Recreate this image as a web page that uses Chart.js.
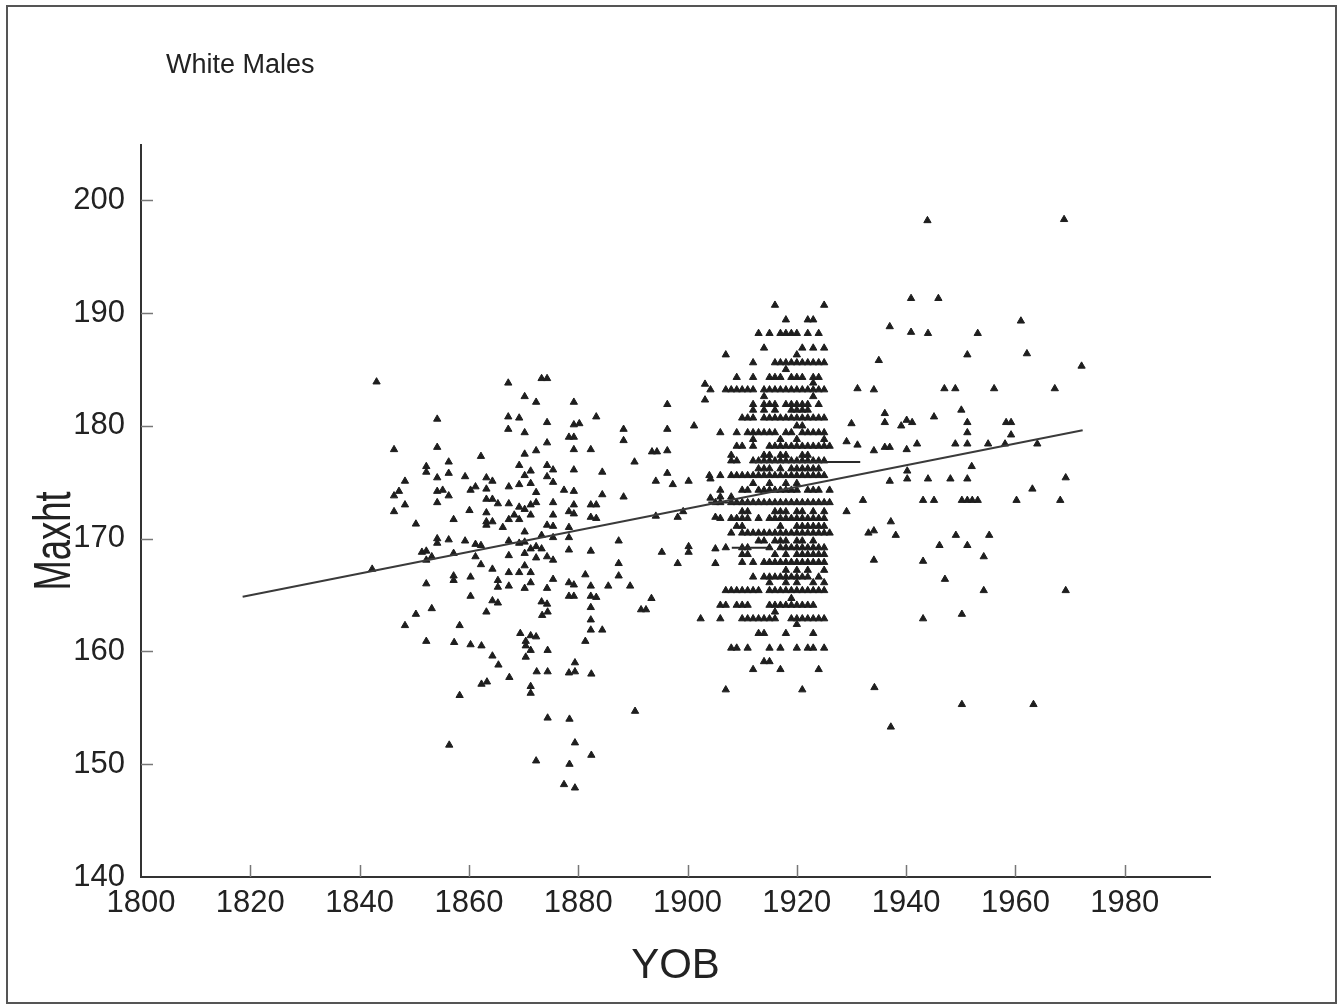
<!DOCTYPE html>
<html>
<head>
<meta charset="utf-8">
<script src="https://cdn.jsdelivr.net/npm/chart.js@4.4.0/dist/chart.umd.min.js"></script>
<style>
  html, body { margin: 0; padding: 0; background: #fff; }
  #wrap { width: 1338px; height: 1005px; }
</style>
</head>
<body>
<div id="wrap"><canvas id="myChart" width="1338" height="1005"></canvas></div>
<script>
// axis ticks
const xTickValues = [1800, 1820, 1840, 1860, 1880, 1900, 1920, 1940, 1960, 1980];
const yTickValues = [140, 150, 160, 170, 180, 190, 200];

// scattered births before the dense block [YOB, Maxht]
const earlyBirths = [
  [1843.1,183.9],[1867.2,183.8],[1873.3,184.2],[1874.3,184.2],[1870.2,182.6],[1872.3,182.1],[1879.2,182.1],
  [1854.2,180.6],[1867.2,180.8],[1869.2,180.7],[1874.3,180.3],[1879.2,180.1],[1880.2,180.2],[1883.3,180.8],
  [1888.3,179.7],[1867.2,179.7],[1870.2,179.4],[1878.3,179.0],[1879.2,179.0],[1888.3,178.7],[1846.3,177.9],
  [1854.2,178.1],[1874.3,178.5],[1872.3,177.8],[1879.2,177.9],[1882.3,177.9],[1893.5,177.7],[1894.4,177.7],
  [1862.2,177.3],[1870.2,177.5],[1856.3,176.8],[1890.3,176.8],[1852.2,176.4],[1852.2,175.9],[1869.2,176.5],
  [1874.3,176.5],[1875.4,176.1],[1856.3,175.8],[1879.2,176.1],[1884.4,175.9],[1848.3,175.1],[1854.2,175.4],
  [1859.3,175.5],[1863.2,175.4],[1864.3,175.1],[1870.2,175.6],[1871.3,176.0],[1874.3,175.5],[1894.2,175.1],
  [1846.3,173.8],[1847.2,174.2],[1854.2,174.2],[1855.2,174.3],[1856.3,173.8],[1860.3,174.3],[1861.2,174.6],
  [1863.2,174.4],[1867.3,174.6],[1869.2,174.8],[1871.3,174.9],[1872.3,174.1],[1875.4,175.0],[1877.4,174.3],
  [1879.2,174.2],[1884.4,173.9],[1888.3,173.7],[1863.2,173.5],[1864.3,173.5],[1865.3,173.1],[1867.3,173.1],
  [1869.2,172.8],[1870.2,172.6],[1871.3,173.0],[1872.3,173.2],[1875.4,173.2],[1879.2,173.0],[1882.3,173.0],
  [1883.3,173.0],[1848.3,173.0],[1846.3,172.4],[1854.2,173.2],[1860.1,172.5],[1863.2,172.3],[1878.3,172.4],
  [1879.2,172.2],[1882.3,171.9],[1883.3,171.8],[1871.3,172.1],[1868.3,172.1],[1867.3,171.7],[1869.2,171.7],
  [1875.4,172.1],[1894.2,172.0],[1850.3,171.3],[1857.2,171.7],[1863.2,171.5],[1864.3,171.5],[1863.2,171.2],
  [1866.2,171.0],[1874.3,171.2],[1875.4,171.1],[1878.3,171.0],[1870.2,170.6],[1873.3,170.3],[1878.3,170.1],
  [1854.2,170.0],[1854.2,169.6],[1856.3,169.9],[1859.3,169.8],[1861.2,169.5],[1862.2,169.4],[1867.3,169.8],
  [1869.2,169.6],[1870.2,169.7],[1875.4,170.1],[1887.4,169.8],[1871.3,169.1],[1872.3,169.3],[1873.3,169.1],
  [1878.3,169.0],[1882.3,168.9],[1851.4,168.8],[1852.2,168.9],[1853.2,168.4],[1852.2,168.1],[1857.2,168.7],
  [1861.2,168.4],[1867.3,168.5],[1870.2,168.7],[1872.3,168.3],[1874.3,168.4],[1875.4,168.1],[1887.4,167.8],
  [1842.3,167.3],[1862.2,167.7],[1864.3,167.3],[1870.2,167.6],[1867.3,167.0],[1869.2,167.0],[1871.3,167.0],
  [1881.3,166.8],[1887.4,166.7],[1852.2,166.0],[1857.2,166.7],[1857.2,166.3],[1860.3,166.6],[1865.3,166.3],
  [1865.3,165.7],[1867.3,165.8],[1870.2,165.6],[1871.3,166.1],[1875.4,166.4],[1874.3,165.6],[1878.3,166.1],
  [1879.2,165.9],[1882.3,165.8],[1885.5,165.8],[1889.5,165.8],[1860.3,164.9],[1864.3,164.5],[1865.3,164.3],
  [1878.3,164.9],[1879.2,164.9],[1882.3,164.9],[1883.3,164.8],[1893.4,164.7],[1873.3,164.4],[1874.3,164.2],
  [1853.2,163.8],[1850.3,163.3],[1863.2,163.5],[1873.4,163.2],[1874.4,163.5],[1882.3,163.9],[1882.3,162.8],
  [1891.5,163.7],[1892.4,163.7],[1848.3,162.3],[1858.3,162.3],[1882.3,161.9],[1884.4,161.9],[1869.4,161.6],
  [1871.3,161.4],[1872.3,161.3],[1852.2,160.9],[1857.3,160.8],[1860.3,160.6],[1862.3,160.5],[1870.4,160.9],
  [1870.4,160.5],[1871.3,160.1],[1874.4,160.1],[1881.3,160.9],[1864.3,159.6],[1865.4,158.8],[1870.4,159.5],
  [1872.4,158.2],[1874.4,158.2],[1878.3,158.1],[1879.4,158.2],[1879.4,159.0],[1882.4,158.0],[1867.4,157.7],
  [1862.3,157.1],[1863.3,157.3],[1871.3,156.9],[1871.3,156.3],[1858.3,156.1],[1890.4,154.7],[1874.4,154.1],
  [1878.4,154.0],[1879.4,151.9],[1856.4,151.7],[1882.4,150.8],[1872.3,150.3],[1878.4,150.0],[1877.4,148.2],
  [1879.4,147.9],
  [1903.2,183.7],[1904.2,183.2],[1903.2,182.3],[1896.3,181.9],[1901.2,180.0],[1896.3,179.7],[1896.3,177.8],
  [1896.3,175.8],[1897.3,174.8],[1900.2,175.1],[1904.2,175.3],[1904.2,173.6],[1905.1,173.2],[1898.2,171.9],
  [1899.2,172.4],[1905.1,171.9],[1895.3,168.8],[1900.2,169.3],[1900.2,168.8],[1905.1,169.1],[1898.2,167.8],
  [1905.1,167.8],[1902.4,162.9]
];

// scattered births after the dense block [YOB, Maxht]
const lateBirths = [
  [1943.9,198.2],[1968.9,198.3],[1940.9,191.3],[1945.9,191.3],[1937.0,188.8],[1940.9,188.3],[1944.0,188.2],
  [1953.1,188.2],[1961.0,189.3],[1951.2,186.3],[1962.1,186.4],[1972.1,185.3],[1935.0,185.8],[1931.1,183.3],
  [1934.1,183.2],[1947.0,183.3],[1949.0,183.3],[1956.1,183.3],[1967.2,183.3],[1936.1,181.1],[1936.1,180.3],
  [1940.1,180.5],[1941.1,180.3],[1939.1,180.0],[1945.1,180.8],[1950.1,181.4],[1951.2,180.3],[1951.2,179.4],
  [1958.3,180.3],[1959.2,180.3],[1959.2,179.2],[1930.0,180.2],[1929.1,178.6],[1931.1,178.3],[1934.1,177.8],
  [1936.1,178.1],[1937.0,178.1],[1940.1,177.9],[1942.0,178.4],[1949.0,178.4],[1951.2,178.4],[1955.0,178.4],
  [1958.1,178.4],[1964.0,178.4],[1952.0,176.4],[1940.2,176.0],[1937.0,175.1],[1940.2,175.3],[1944.0,175.3],
  [1948.1,175.3],[1951.2,175.3],[1963.1,174.4],[1969.2,175.4],[1932.1,173.4],[1943.1,173.4],[1945.1,173.4],
  [1950.2,173.4],[1951.2,173.4],[1952.1,173.4],[1953.1,173.4],[1960.2,173.4],[1968.2,173.4],[1929.1,172.4],
  [1937.2,171.5],[1933.1,170.5],[1934.1,170.7],[1938.1,170.3],[1949.1,170.3],[1955.2,170.3],[1946.1,169.4],
  [1951.2,169.4],[1954.2,168.4],[1934.1,168.1],[1943.1,168.0],[1947.1,166.4],[1954.2,165.4],[1969.2,165.4],
  [1943.1,162.9],[1950.2,163.3],[1934.2,156.8],[1950.2,155.3],[1963.3,155.3],[1937.2,153.3]
];

// dense block 1904-1926: one row per recorded height, with the birth years in that row
const clusterHeights = [190.7, 189.4, 188.2, 186.9, 186.3, 185.6, 185.0, 184.3, 183.8, 183.2, 182.6, 181.9,
  181.4, 180.7, 180.0, 179.4, 178.8, 178.2, 177.4, 176.9, 176.2, 175.6, 174.9, 174.3, 173.7, 173.2, 172.4,
  171.8, 171.1, 170.5, 169.8, 169.2, 168.6, 167.9, 167.2, 166.6, 166.1, 165.4, 164.7, 164.1, 163.5, 162.9,
  162.4, 161.6, 160.3, 159.1, 158.4, 156.6];
const clusterYears = [
  [1916, 1925],
  [1918, 1922, 1923],
  [1913, 1915, 1917, 1918, 1919, 1920, 1922, 1924],
  [1914, 1921, 1923, 1925],
  [1907, 1920],
  [1912, 1916, 1917, 1918, 1919, 1920, 1921, 1922, 1923, 1924, 1925],
  [1918],
  [1909, 1912, 1915, 1916, 1917, 1919, 1920, 1921, 1923, 1924],
  [1923],
  [1907, 1908, 1909, 1910, 1911, 1912, 1914, 1915, 1916, 1917, 1918, 1919, 1920, 1921, 1922, 1923, 1924, 1925],
  [1914, 1923],
  [1912, 1914, 1915, 1916, 1918, 1919, 1920, 1921, 1922, 1924],
  [1912, 1914, 1916, 1919, 1920, 1921, 1922],
  [1910, 1911, 1912, 1914, 1915, 1916, 1917, 1918, 1919, 1920, 1921, 1922, 1923, 1924, 1925],
  [1920, 1921],
  [1906, 1909, 1911, 1912, 1913, 1914, 1915, 1916, 1918, 1919, 1921, 1922, 1923, 1924, 1925],
  [1912, 1917, 1920, 1925],
  [1909, 1910, 1912, 1915, 1916, 1917, 1918, 1919, 1920, 1921, 1922, 1923, 1924, 1925, 1926],
  [1908, 1914, 1915, 1917, 1918, 1921, 1922],
  [1908, 1909, 1912, 1913, 1914, 1915, 1916, 1917, 1918, 1919, 1920, 1921, 1922, 1923, 1924, 1925],
  [1913, 1914, 1915, 1917, 1919, 1920, 1921, 1922, 1923, 1924],
  [1904, 1906, 1908, 1909, 1910, 1911, 1912, 1913, 1914, 1915, 1916, 1917, 1918, 1919, 1920, 1921, 1922, 1923, 1924, 1925],
  [1912, 1915, 1918, 1920],
  [1906, 1910, 1911, 1913, 1914, 1915, 1916, 1917, 1918, 1919, 1920, 1922, 1923, 1924, 1926],
  [1906, 1908],
  [1906, 1908, 1909, 1910, 1911, 1912, 1913, 1914, 1915, 1916, 1917, 1918, 1919, 1920, 1921, 1922, 1923, 1924, 1925, 1926],
  [1910, 1911, 1916, 1917, 1918, 1920, 1921, 1923, 1925],
  [1906, 1908, 1909, 1910, 1911, 1913, 1915, 1916, 1917, 1918, 1919, 1920, 1921, 1922, 1923, 1924, 1925],
  [1909, 1910, 1917, 1920, 1921, 1922, 1923, 1924, 1925],
  [1908, 1910, 1911, 1912, 1913, 1914, 1915, 1916, 1917, 1918, 1919, 1920, 1921, 1922, 1923, 1924, 1925, 1926],
  [1913, 1914, 1916, 1917, 1918, 1920, 1921, 1923],
  [1907, 1910, 1911, 1915, 1917, 1918, 1919, 1920, 1921, 1922, 1923, 1924, 1925],
  [1910, 1911, 1916, 1918, 1920, 1921, 1922, 1923, 1924, 1925],
  [1910, 1912, 1914, 1915, 1916, 1917, 1918, 1919, 1920, 1921, 1922, 1923, 1924, 1925],
  [1918, 1920, 1922, 1925],
  [1912, 1914, 1915, 1916, 1917, 1918, 1919, 1920, 1921, 1922, 1924],
  [1915, 1918, 1920, 1923, 1925],
  [1907, 1908, 1909, 1910, 1911, 1912, 1913, 1915, 1916, 1917, 1918, 1919, 1920, 1921, 1922, 1923, 1924, 1925],
  [1919],
  [1906, 1907, 1909, 1910, 1911, 1915, 1916, 1917, 1918, 1919, 1920, 1921, 1922, 1923],
  [1916],
  [1906, 1910, 1911, 1912, 1913, 1914, 1915, 1916, 1919, 1920, 1921, 1922, 1923, 1924, 1925],
  [1920],
  [1913, 1914, 1918, 1923],
  [1908, 1909, 1911, 1915, 1917, 1920, 1922, 1923, 1925],
  [1914, 1915],
  [1912, 1917, 1924],
  [1907, 1921]
];

// fitted line and the short horizontal marks inside the block
const fitYOB = [1818.6, 1972.3];
const fitMaxht = [164.85, 179.6];
const markYOB = [[1912, 1931.6], [1903.8, 1926.3], [1908.1, 1915.1]];
const markMaxht = [176.8, 173.2, 169.2];

const points = [];
earlyBirths.forEach(p => points.push({x: p[0], y: p[1]}));
clusterHeights.forEach((h, i) => {
  clusterYears[i].forEach(yr => points.push({x: yr, y: h}));
});
lateBirths.forEach(p => points.push({x: p[0], y: p[1]}));

const FONT = '"Liberation Sans", Arial, Helvetica, sans-serif';
const INK = '#222';

const datasets = [
  {
    label: 'Fit',
    type: 'line',
    data: fitYOB.map((x, i) => ({x: x, y: fitMaxht[i]})),
    borderColor: '#3a3a3a',
    borderWidth: 2,
    pointRadius: 0,
    order: 0
  }
];
markYOB.forEach((seg, i) => {
  datasets.push({
    label: 'Mark ' + (i + 1),
    type: 'line',
    data: seg.map(x => ({x: x, y: markMaxht[i]})),
    borderColor: '#2a2a2a',
    borderWidth: 2,
    pointRadius: 0,
    order: 1
  });
});
datasets.push({
  label: 'Maxht',
  type: 'scatter',
  data: points,
  pointStyle: 'triangle',
  pointRadius: 4.2,
  backgroundColor: '#1e1e1e',
  borderColor: '#1e1e1e',
  borderWidth: 1,
  order: 2
});

// page frame, inward tick marks and the free-standing texts
const decor = {
  id: 'decor',
  beforeDraw(chart) {
    const c = chart.ctx;
    c.save();
    c.fillStyle = '#fff';
    c.fillRect(0, 0, chart.width, chart.height);
    c.strokeStyle = '#555';
    c.lineWidth = 2;
    c.strokeRect(7, 6, 1329, 997);
    c.restore();
  },
  afterDraw(chart) {
    const c = chart.ctx;
    const xs = chart.scales.x, ys = chart.scales.y;
    const a = chart.chartArea;
    c.save();
    c.strokeStyle = '#777';
    c.lineWidth = 1.5;
    xTickValues.slice(1).forEach(v => {
      const px = Math.round(xs.getPixelForValue(v)) + 0.5;
      c.beginPath(); c.moveTo(px, a.bottom); c.lineTo(px, a.bottom - 12); c.stroke();
    });
    yTickValues.slice(1).forEach(v => {
      const py = Math.round(ys.getPixelForValue(v)) + 0.5;
      c.beginPath(); c.moveTo(a.left, py); c.lineTo(a.left + 12, py); c.stroke();
    });

    c.fillStyle = INK;
    c.font = '27px ' + FONT;
    c.textAlign = 'left';
    c.textBaseline = 'alphabetic';
    c.fillText('White Males', 166, 73);

    c.translate(56, 541);
    c.rotate(-Math.PI / 2);
    c.scale(0.7, 1);
    c.font = '52px ' + FONT;
    c.textAlign = 'center';
    c.textBaseline = 'middle';
    c.fillText('Maxht', 0, 0);
    c.restore();
  }
};

new Chart(document.getElementById('myChart'), {
  data: { datasets: datasets },
  plugins: [decor],
  options: {
    responsive: false,
    animation: false,
    devicePixelRatio: 1,
    layout: { padding: { left: 0, top: 145, right: 128, bottom: 0 } },
    plugins: {
      legend: { display: false },
      tooltip: { enabled: false },
      title: { display: false }
    },
    scales: {
      x: {
        type: 'linear',
        position: 'bottom',
        min: 1800,
        max: 1995.6,
        afterBuildTicks: s => { s.ticks = xTickValues.map(v => ({value: v})); },
        afterFit: s => { s.height = 128; },
        grid: { display: false, drawTicks: false },
        border: { display: true, color: '#333', width: 2 },
        ticks: {
          font: { family: FONT, size: 31 },
          color: INK,
          padding: 8,
          maxRotation: 0,
          autoSkip: false,
          callback: v => String(v)
        },
        title: {
          display: true,
          text: 'YOB',
          color: INK,
          font: { family: FONT, size: 42 },
          padding: { top: 0, bottom: 13 }
        }
      },
      y: {
        type: 'linear',
        min: 140,
        max: 204.9,
        afterBuildTicks: s => { s.ticks = yTickValues.map(v => ({value: v})); },
        afterFit: s => { s.width = 141; },
        grid: { display: false, drawTicks: false },
        border: { display: true, color: '#333', width: 2 },
        ticks: {
          font: { family: FONT, size: 31 },
          color: INK,
          padding: 16,
          autoSkip: false,
          callback: v => String(v)
        }
      }
    }
  }
});
</script>
</body>
</html>
